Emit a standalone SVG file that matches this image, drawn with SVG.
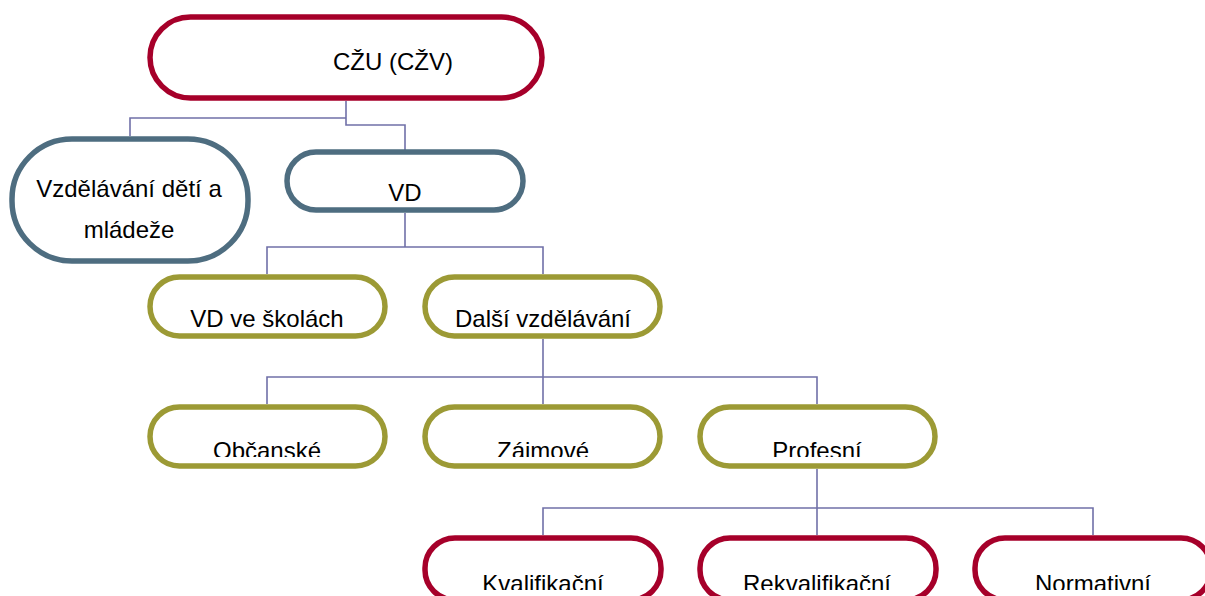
<svg xmlns="http://www.w3.org/2000/svg" width="1205" height="596" viewBox="0 0 1205 596">
<style>
.n{fill:#fff;stroke-width:5.5}
.red{stroke:#A6002A}
.blue{stroke:#4E6D80}
.olive{stroke:#9C9A35}
.t{font-family:"Liberation Sans",Arial,sans-serif;font-size:24px;fill:#000;text-anchor:middle}
.c{fill:none;stroke:#7070A8;stroke-width:1.6}
</style>
<defs>
<clipPath id="clip3"><rect x="0" y="0" width="1205" height="457"/></clipPath>
<clipPath id="clip4"><rect x="0" y="0" width="1205" height="590"/></clipPath>
</defs>
<g id="connectors">
<path class="c" d="M346 101V125H405V150"/>
<path class="c" d="M346 118H130V136"/>
<path class="c" d="M405 213V247"/>
<path class="c" d="M267 274V247H543V274"/>
<path class="c" d="M543 339V404"/>
<path class="c" d="M267 404V377H817V404"/>
<path class="c" d="M817 469V535"/>
<path class="c" d="M543 535V508H1093V535"/>
</g>
<g id="czu">
<rect class="n red" x="150" y="17" width="392" height="81" rx="40.5"/>
<text class="t" x="393" y="70">CŽU (CŽV)</text>
</g>
<g id="vzdelavani-deti">
<rect class="n blue" x="12" y="139" width="236" height="122" rx="60"/>
<text class="t" x="129" y="197">Vzdělávání dětí a</text>
<text class="t" x="129" y="238">mládeže</text>
</g>
<g id="vd">
<rect class="n blue" x="287" y="152" width="236" height="58" rx="29"/>
<text class="t" x="405" y="201">VD</text>
</g>
<g id="vd-skoly">
<rect class="n olive" x="150" y="277" width="235" height="59" rx="29.5"/>
<text class="t" x="267" y="327">VD ve školách</text>
</g>
<g id="dalsi">
<rect class="n olive" x="425" y="277" width="235" height="59" rx="29.5"/>
<text class="t" x="543" y="327">Další vzdělávání</text>
</g>
<g id="obcanske">
<rect class="n olive" x="150" y="407" width="235" height="59" rx="29.5"/>
<text class="t" x="267" y="459" clip-path="url(#clip3)">Občanské</text>
</g>
<g id="zajmove">
<rect class="n olive" x="425" y="407" width="235" height="59" rx="29.5"/>
<text class="t" x="543" y="459" clip-path="url(#clip3)">Záimové</text>
</g>
<g id="profesni">
<rect class="n olive" x="700" y="407" width="235" height="59" rx="29.5"/>
<text class="t" x="817" y="459" clip-path="url(#clip3)">Profesní</text>
</g>
<g id="kvalifikacni">
<rect class="n red" x="425" y="538" width="236" height="62" rx="30"/>
<text class="t" x="543" y="592" clip-path="url(#clip4)">Kvalifikační</text>
</g>
<g id="rekvalifikacni">
<rect class="n red" x="700" y="538" width="236" height="62" rx="30"/>
<text class="t" x="817" y="592" clip-path="url(#clip4)">Rekvalifikační</text>
</g>
<g id="normativni">
<rect class="n red" x="975" y="538" width="236" height="62" rx="30"/>
<text class="t" x="1093" y="592" clip-path="url(#clip4)">Normativní</text>
</g>
</svg>
